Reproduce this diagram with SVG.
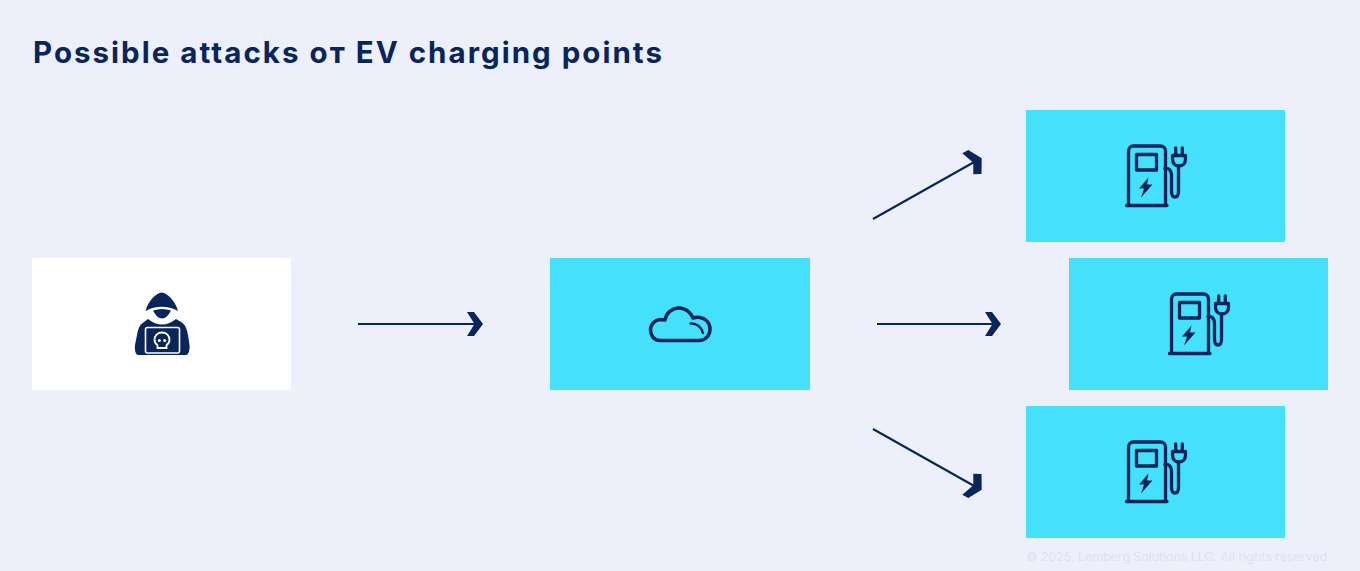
<svg xmlns="http://www.w3.org/2000/svg" width="1360" height="571" viewBox="0 0 1360 571">
<defs>
<style>
.box{fill:#45e1fc}
.ln{fill:none;stroke:#0a2559;stroke-width:2.2}
.hd{fill:#0a2559}
.ic{fill:none;stroke:#0a2559;stroke-width:3.300;stroke-linecap:round;stroke-linejoin:round}
.title{font-family:Inter,"Liberation Sans",sans-serif;font-weight:700;font-size:29.500px;fill:#0a2559}
.foot{font-family:Inter,"Liberation Sans",sans-serif;font-size:12px;fill:#dde1f1}
</style>
<g id="charger">
<path class="ic" d="M1128.500 205V151a5 5 0 0 1 5-5h27a5 5 0 0 1 5 5v54M1126.500 205.500H1167"/>
<rect class="ic" x="1136.500" y="154.500" width="20" height="15.500"/>
<path class="hd" d="M1148.500 177.500l-9.500 11h5l-3 9 11.500-13h-5.500z"/>
<path class="ic" d="M1165 168.500c4.500-.5 6.500 2.500 6.500 7v15.500c0 4 1.500 6 3.500 6s3.500-2 3.500-6V166"/>
<path class="ic" d="M1172.500 155.500h13v3.500c0 4.500-2.700 7-6.500 7s-6.500-2.500-6.500-7zM1175.700 155v-7M1182.300 155v-7"/>
</g>
</defs>
<rect width="1360" height="571" fill="#edf0fb"/>
<text class="title" x="33" y="63" textLength="629" lengthAdjust="spacing">Possible attacks от EV charging points</text>
<g id="connectors">
<path class="ln" d="M358 324H478"/><path class="hd" d="M467 312h7l9 12-9 12h-7l7.500-12z"/>
<path class="ln" d="M877 324H996"/><path class="hd" d="M985 312h7l9 12-9 12h-7l7.500-12z"/>
<path class="ln" d="M873 219L976 161"/><path class="hd" d="M962.300 153.300L968.300 150L981.700 158.300L981.500 174L973.300 174.300L973.300 162.700z"/>
<path class="ln" d="M873 429L976 487"/><path class="hd" d="M962.300 494.700L968.300 498L981.700 489.700L981.500 474L973.300 473.700L973.300 485.300z"/>
</g>
<g id="attacker">
<rect x="32" y="258" width="259" height="132" fill="#fff"/>
<path class="hd" d="M161.700 292.500C156 293 148 301 145.500 311C151 308 156 306.800 161.700 306.800S172.500 308 178 311C175.500 301 167.500 293 161.700 292.500z"/>
<path class="hd" d="M153 310.500Q162 307.500 171 310.500Q167 318.500 162 318.500T153 310.500z"/>
<path class="hd" d="M148 319C153 323 157 324.500 162 324.500S171 323 176 319L181 322C186 325 187 330 188 335L189.500 345C190 350 188.500 355 186 355H138.500C135.500 355 134.500 350 135 345L137 335C138 330 139 325 144 322z"/>
<rect x="145.500" y="327.500" width="34" height="25.500" rx="2" fill="#0a2559" stroke="#fff" stroke-width="1.600"/>
<path d="M162 332.500c-4.500 0-7.500 3.200-7.500 7.300 0 2.700 1.200 4.300 3 5.400v2.800h9v-2.800c1.800-1.100 3-2.700 3-5.400 0-4.100-3-7.300-7.500-7.300z" fill="none" stroke="#fff" stroke-width="1.800"/>
<circle cx="159.300" cy="340.500" r="1.500" fill="#fff"/><circle cx="164.700" cy="340.500" r="1.500" fill="#fff"/>
</g>
<g id="cloud">
<rect class="box" x="550" y="258" width="260" height="132"/>
<path class="ic" style="stroke-width:3.500" d="M660 340.500C653.500 340.500 650.500 335 650.500 330C650.500 324 655 320 660 319.500L665 320C666 313 672 308 679 308C686 308 691 313 693 318C696 317 698 317 700 317.500C706 318.500 710 323 710 329C710 336 705 340.500 699 340.500z"/>
<path class="ic" style="stroke-width:2.500" d="M690.500 323.500c6-.5 11 3.500 12.500 9.500"/>
</g>
<g id="station-1"><rect class="box" x="1026" y="110" width="259" height="132"/><use href="#charger"/></g>
<g id="station-2"><rect class="box" x="1069" y="258" width="259" height="132"/><use href="#charger" transform="translate(43 148)"/></g>
<g id="station-3"><rect class="box" x="1026" y="406" width="259" height="132"/><use href="#charger" transform="translate(0 296)"/></g>
<text class="foot" x="1026" y="561" textLength="301" lengthAdjust="spacingAndGlyphs">© 2025. Lemberg Solutions LLC. All rights reserved</text>
</svg>
